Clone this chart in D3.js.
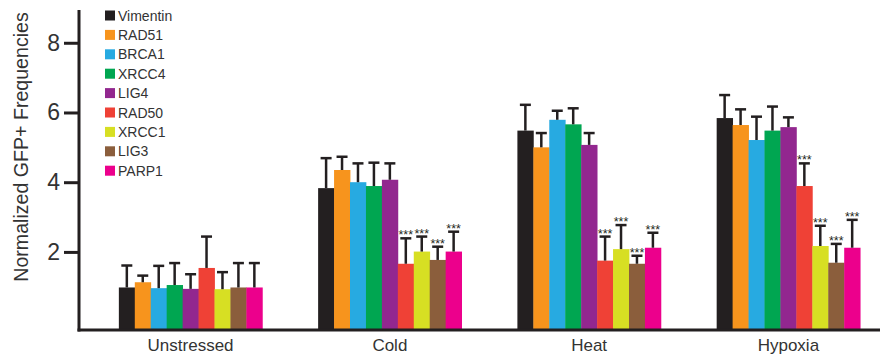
<!DOCTYPE html>
<html>
<head>
<meta charset="utf-8">
<script src="https://cdn.jsdelivr.net/npm/d3@7"></script>
<style>
  body { margin: 0; background: #fff; }
  svg { display: block; font-family: 'Liberation Sans', Arial, sans-serif; }
</style>
</head>
<body>
<svg id="chart" width="880" height="361"></svg>
<script>
(function() {
'use strict';

var conditions = ['Unstressed', 'Cold', 'Heat', 'Hypoxia'];
var genes = ['Vimentin', 'RAD51', 'BRCA1', 'XRCC4', 'LIG4', 'RAD50', 'XRCC1', 'LIG3', 'PARP1'];
var colors = ['#231f20', '#f7941d', '#27aae1', '#00a651', '#92278f', '#ef4136', '#d7df23', '#8b5e3c', '#ec008c'];

// mean values, one array per condition (gene order as above)
var unstressed = [0.98, 1.13, 0.96, 1.05, 0.94, 1.54, 0.93, 0.98, 0.98];
var cold       = [3.83, 4.35, 4.00, 3.89, 4.07, 1.66, 2.01, 1.77, 2.01];
var heat       = [5.48, 5.00, 5.79, 5.66, 5.07, 1.75, 2.08, 1.66, 2.12];
var hypoxia    = [5.84, 5.64, 5.21, 5.48, 5.58, 3.89, 2.17, 1.69, 2.12];

// top of error bar
var unstressedErr = [1.61, 1.32, 1.60, 1.68, 1.36, 2.44, 1.42, 1.68, 1.68];
var coldErr       = [4.69, 4.73, 4.54, 4.56, 4.54, 2.39, 2.44, 2.15, 2.58];
var heatErr       = [6.22, 5.41, 6.05, 6.12, 5.41, 2.44, 2.77, 1.89, 2.55];
var hypoxiaErr    = [6.50, 6.09, 5.88, 6.17, 5.86, 4.54, 2.75, 2.23, 2.92];

// *** markers
var sigGenes = ['RAD50', 'XRCC1', 'LIG3', 'PARP1'];
var sigConditions = ['Cold', 'Heat', 'Hypoxia'];

var yTicks = [2, 4, 6, 8];

var means = [unstressed, cold, heat, hypoxia];
var errs = [unstressedErr, coldErr, heatErr, hypoxiaErr];

var data = [];
conditions.forEach(function (c, i) {
    genes.forEach(function (g, j) {
        data.push({
            condition: c, gene: g, value: means[i][j], err: errs[i][j],
            sig: sigConditions.indexOf(c) > -1 && sigGenes.indexOf(g) > -1
        });
    });
});

var svg = d3.select('#chart');

var x0 = d3.scaleBand().domain(conditions).range([79, 900])
    .paddingInner(0.28).paddingOuter(0.2);
var x1 = d3.scaleBand().domain(genes).range([0, x0.bandwidth()]);
var y = d3.scaleLinear().domain([-0.24, 8.94]).range([330, 10]);
var color = d3.scaleOrdinal().domain(genes).range(colors);

// bars
svg.append('g').selectAll('rect')
    .data(data).enter().append('rect')
    .attr('x', function (d) { return x0(d.condition) + x1(d.gene); })
    .attr('width', x1.bandwidth() + 0.4)
    .attr('y', function (d) { return y(d.value); })
    .attr('height', function (d) { return y(y.domain()[0]) - y(d.value); })
    .attr('fill', function (d) { return color(d.gene); });

// error bars
var eb = svg.append('g').attr('stroke', '#231f20').attr('stroke-width', 2.5)
    .selectAll('g').data(data).enter().append('g')
    .attr('transform', function (d) {
        return 'translate(' + (x0(d.condition) + x1(d.gene) + x1.bandwidth() / 2) + ',0)';
    });
eb.append('line')
    .attr('x1', 0).attr('x2', 0)
    .attr('y1', function (d) { return y(d.value); })
    .attr('y2', function (d) { return y(d.err); });
eb.append('line')
    .attr('x1', -5.5).attr('x2', 5.5)
    .attr('y1', function (d) { return y(d.err); })
    .attr('y2', function (d) { return y(d.err); });

// significance stars
svg.append('g').selectAll('text')
    .data(data.filter(function (d) { return d.sig; }))
    .enter().append('text')
    .attr('x', function (d) { return x0(d.condition) + x1(d.gene) + x1.bandwidth() / 2; })
    .attr('y', function (d) { return y(d.err) + 1; })
    .attr('text-anchor', 'middle')
    .attr('font-size', 12.5)
    .attr('fill', '#231f20')
    .text('***');

// y axis
var yAxis = svg.append('g')
    .attr('transform', 'translate(79,0)')
    .call(d3.axisLeft(y).tickValues(yTicks).tickSize(15).tickPadding(4).tickFormat(d3.format('d')));
yAxis.select('.domain').remove();
yAxis.selectAll('.tick line').attr('stroke', '#231f20').attr('stroke-width', 3);
yAxis.selectAll('.tick text')
    .attr('font-family', "'Liberation Sans', Arial, sans-serif")
    .attr('font-size', 23).attr('fill', '#333');

svg.append('line')
    .attr('x1', 79).attr('x2', 79).attr('y1', 10).attr('y2', 331.5)
    .attr('stroke', '#231f20').attr('stroke-width', 3);
svg.append('line')
    .attr('x1', 77.5).attr('x2', 880).attr('y1', 330).attr('y2', 330)
    .attr('stroke', '#231f20').attr('stroke-width', 3);

// category labels
svg.append('g').selectAll('text')
    .data(conditions).enter().append('text')
    .attr('x', function (d) { return x0(d) + x0.bandwidth() / 2; })
    .attr('y', 351)
    .attr('text-anchor', 'middle')
    .attr('font-size', 17)
    .attr('fill', '#333')
    .text(function (d) { return d; });

// y title
svg.append('text')
    .attr('transform', 'translate(28,147) rotate(-90)')
    .attr('text-anchor', 'middle')
    .attr('font-size', 19.6)
    .attr('fill', '#333')
    .text('Normalized GFP+ Frequencies');

// legend
var legend = svg.append('g').selectAll('g')
    .data(genes).enter().append('g')
    .attr('transform', function (d, i) { return 'translate(105,' + (15.5 + i * 19.4) + ')'; });
legend.append('rect')
    .attr('x', 0).attr('y', -5).attr('width', 10).attr('height', 10)
    .attr('fill', function (d) { return color(d); });
legend.append('text')
    .attr('x', 13).attr('y', 5)
    .attr('font-size', 14)
    .attr('fill', '#333')
    .text(function (d) { return d; });

})();
</script>
</body>
</html>
